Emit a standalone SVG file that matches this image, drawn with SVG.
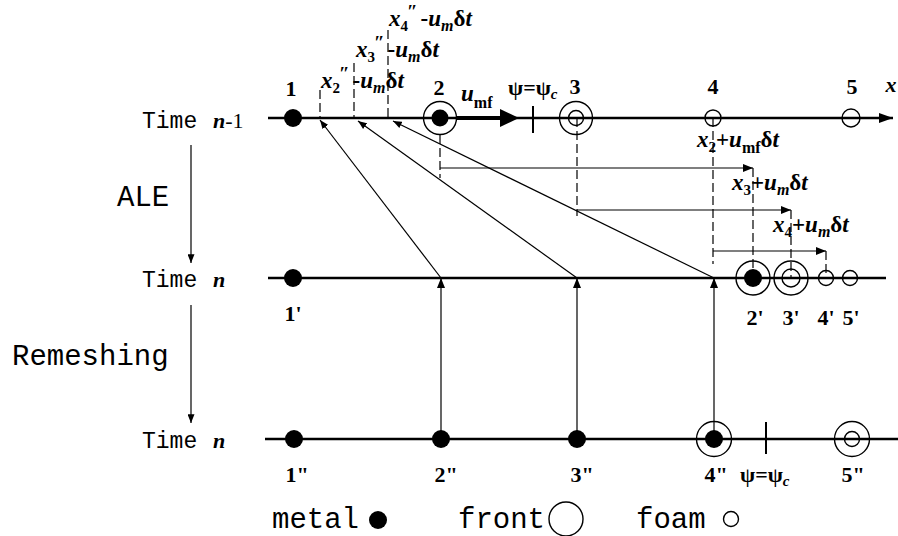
<svg xmlns="http://www.w3.org/2000/svg" width="898" height="536" viewBox="0 0 898 536">
  <style>
    .axis { stroke:#000; stroke-width:2.6; fill:none; }
    .thin { stroke:#000; stroke-width:1.2; fill:none; }
    .dash { stroke:#000; stroke-width:1.2; stroke-dasharray:9 4; fill:none; }
    .ring { stroke:#000; stroke-width:1.4; fill:none; }
    .dot { fill:#000; }
    .lbl { font-family:"Liberation Serif", "Times New Roman", serif; font-size:22px; font-weight:bold; fill:#000; }
    .math { font-family:"Liberation Serif", "Times New Roman", serif; font-size:23px; font-weight:bold; fill:#000; }
    .it { font-style:italic; }
    .mono { font-family:"Liberation Mono", "Courier New", monospace; fill:#000; }
  </style>
  <defs>
    <marker id="ah" viewBox="0 0 10 8" refX="10" refY="4" markerWidth="10" markerHeight="8" markerUnits="userSpaceOnUse" orient="auto">
      <path d="M0,0 L10,4 L0,8 z" fill="#000"/>
    </marker>
    <marker id="ahs" viewBox="0 0 10 8" refX="10" refY="4" markerWidth="9" markerHeight="7" markerUnits="userSpaceOnUse" orient="auto">
      <path d="M0,0 L10,4 L0,8 z" fill="#000"/>
    </marker>
    <marker id="ahx" viewBox="0 0 14 10" refX="14" refY="5" markerWidth="14" markerHeight="10" markerUnits="userSpaceOnUse" orient="auto">
      <path d="M0,0 L14,5 L0,10 z" fill="#000"/>
    </marker>
  </defs>

  <!-- left-hand step labels -->
  <g id="steps">
    <text class="mono" x="142" y="128" font-size="23">Time</text>
    <text class="lbl it" x="213" y="128" font-size="19">n<tspan font-style="normal" font-weight="normal">-1</tspan></text>
    <text class="mono" x="142" y="287" font-size="23">Time</text>
    <text class="lbl it" x="213" y="287" font-size="19">n</text>
    <text class="mono" x="142" y="448" font-size="23">Time</text>
    <text class="lbl it" x="213" y="448" font-size="19">n</text>
    <text class="mono" x="117" y="206" font-size="29">ALE</text>
    <text class="mono" x="12" y="365" font-size="29">Remeshing</text>
    <line class="thin" x1="191" y1="145" x2="191" y2="263" marker-end="url(#ahs)"/>
    <line class="thin" x1="191" y1="305" x2="191" y2="423" marker-end="url(#ahs)"/>
  </g>

  <!-- mesh lines -->
  <g id="axes">
    <line class="axis" x1="268" y1="118" x2="893" y2="118" marker-end="url(#ahx)"/>
    <line class="axis" x1="268" y1="278" x2="886" y2="278"/>
    <line class="axis" x1="265" y1="439" x2="898" y2="439"/>
  </g>

  <!-- connectors -->
  <g id="connectors">
    <!-- remeshed nodes mapped back to time n -->
    <line class="thin" x1="441" y1="439" x2="441" y2="278" marker-end="url(#ah)"/>
    <line class="thin" x1="577" y1="439" x2="577" y2="278" marker-end="url(#ah)"/>
    <line class="thin" x1="714" y1="439" x2="714" y2="278" marker-end="url(#ah)"/>
    <!-- traced back to time n-1 -->
    <line class="thin" x1="441" y1="278" x2="320" y2="120" marker-end="url(#ahs)"/>
    <line class="thin" x1="577" y1="278" x2="358" y2="121" marker-end="url(#ahs)"/>
    <line class="thin" x1="714" y1="278" x2="393" y2="121" marker-end="url(#ahs)"/>
    <!-- departure-point guides -->
    <line class="dash" x1="320" y1="90" x2="320" y2="118"/>
    <line class="dash" x1="354" y1="63" x2="354" y2="118"/>
    <line class="dash" x1="388" y1="30" x2="388" y2="118"/>
    <!-- forward updates of node positions -->
    <line class="dash" x1="440" y1="135" x2="440" y2="178"/>
    <line class="thin" x1="440" y1="168" x2="753" y2="168" marker-end="url(#ah)"/>
    <line class="dash" x1="577" y1="118" x2="577" y2="216"/>
    <line class="thin" x1="577" y1="210" x2="791" y2="210" marker-end="url(#ah)"/>
    <line class="dash" x1="713" y1="118" x2="713" y2="264"/>
    <line class="thin" x1="713" y1="251" x2="826" y2="251" marker-end="url(#ah)"/>
    <line class="dash" x1="753" y1="168" x2="753" y2="278"/>
    <line class="dash" x1="791" y1="210" x2="791" y2="278"/>
    <line class="dash" x1="826" y1="251" x2="826" y2="278"/>
    <!-- front velocity -->
    <line stroke="#000" stroke-width="4" x1="457" y1="118" x2="503" y2="118"/>
    <path d="M500,109 L519,118 L500,127 z" fill="#000"/>
  </g>

  <!-- nodes at time n-1 -->
  <g id="n1"><circle class="dot" cx="293" cy="118" r="9"/><text class="lbl" x="291" y="96" text-anchor="middle">1</text></g>
  <g id="n2"><circle class="dot" cx="440" cy="118" r="8.5"/><circle class="ring" cx="440" cy="118" r="16.5"/><text class="lbl" x="439" y="95" text-anchor="middle">2</text></g>
  <g id="n3"><circle class="ring" cx="576" cy="118" r="7.5"/><circle class="ring" cx="576" cy="118" r="16.5"/><text class="lbl" x="575" y="94" text-anchor="middle">3</text></g>
  <g id="n4"><circle class="ring" cx="713" cy="118" r="8"/><text class="lbl" x="713" y="94" text-anchor="middle">4</text></g>
  <g id="n5"><circle class="ring" cx="851" cy="118" r="9"/><text class="lbl" x="852" y="94" text-anchor="middle">5</text></g>
  <g id="xaxis-label"><text class="lbl it" x="891" y="92" text-anchor="middle">x</text></g>

  <!-- critical level set and front velocity -->
  <g id="psi-top">
    <line stroke="#000" stroke-width="2" x1="533" y1="106" x2="533" y2="133"/>
    <text class="lbl" x="508" y="95" font-weight="normal">ψ=ψ<tspan class="it" font-size="15" dy="4">c</tspan></text>
  </g>
  <g id="umf">
    <text class="math" x="461" y="101"><tspan class="it">u</tspan><tspan font-size="16" dy="7">mf</tspan></text>
  </g>

  <!-- departure-point labels -->
  <g id="dep-labels">
    <text class="math" x="321" y="88"><tspan class="it">x</tspan><tspan font-size="15" dy="5">2</tspan><tspan class="it" font-size="19" dx="-1" dy="-13">″</tspan><tspan dx="3" dy="8">-</tspan><tspan class="it">u</tspan><tspan class="it" font-size="16" dy="5">m</tspan><tspan dy="-5">δ</tspan><tspan class="it">t</tspan></text>
    <text class="math" x="356" y="57"><tspan class="it">x</tspan><tspan font-size="15" dy="5">3</tspan><tspan class="it" font-size="19" dx="-1" dy="-13">″</tspan><tspan dx="3" dy="8">-</tspan><tspan class="it">u</tspan><tspan class="it" font-size="16" dy="5">m</tspan><tspan dy="-5">δ</tspan><tspan class="it">t</tspan></text>
    <text class="math" x="389" y="26"><tspan class="it">x</tspan><tspan font-size="15" dy="5">4</tspan><tspan class="it" font-size="19" dx="-1" dy="-13">″</tspan><tspan dx="3" dy="8">-</tspan><tspan class="it">u</tspan><tspan class="it" font-size="16" dy="5">m</tspan><tspan dy="-5">δ</tspan><tspan class="it">t</tspan></text>
  </g>

  <!-- updated-position labels -->
  <g id="upd-labels">
    <text class="math" x="697" y="147"><tspan class="it">x</tspan><tspan font-size="15" dy="5">2</tspan><tspan dy="-5">+</tspan><tspan class="it">u</tspan><tspan font-size="16" dy="6">mf</tspan><tspan dy="-6">δ</tspan><tspan class="it">t</tspan></text>
    <text class="math" x="732" y="190"><tspan class="it">x</tspan><tspan font-size="15" dy="5">3</tspan><tspan dy="-5">+</tspan><tspan class="it">u</tspan><tspan class="it" font-size="16" dy="5">m</tspan><tspan dy="-5">δ</tspan><tspan class="it">t</tspan></text>
    <text class="math" x="773" y="232"><tspan class="it">x</tspan><tspan font-size="15" dy="5">4</tspan><tspan dy="-5">+</tspan><tspan class="it">u</tspan><tspan class="it" font-size="16" dy="5">m</tspan><tspan dy="-5">δ</tspan><tspan class="it">t</tspan></text>
  </g>

  <!-- nodes at time n after ALE -->
  <g id="m1"><circle class="dot" cx="293" cy="278" r="9"/><text class="lbl" x="293" y="321" text-anchor="middle">1'</text></g>
  <g id="m2"><circle class="dot" cx="753" cy="278" r="9"/><circle class="ring" cx="753" cy="278" r="17"/><text class="lbl" x="755" y="325" text-anchor="middle">2'</text></g>
  <g id="m3"><circle class="ring" cx="791" cy="278" r="9"/><circle class="ring" cx="791" cy="278" r="17"/><text class="lbl" x="791" y="325" text-anchor="middle">3'</text></g>
  <g id="m4"><circle class="ring" cx="826" cy="278" r="7.5"/><text class="lbl" x="826" y="325" text-anchor="middle">4'</text></g>
  <g id="m5"><circle class="ring" cx="850" cy="278" r="7.5"/><text class="lbl" x="851" y="325" text-anchor="middle">5'</text></g>

  <!-- nodes at time n after remeshing -->
  <g id="r1"><circle class="dot" cx="294" cy="439" r="9"/><text class="lbl" x="297" y="482" text-anchor="middle">1"</text></g>
  <g id="r2"><circle class="dot" cx="441" cy="439" r="9"/><text class="lbl" x="446" y="482" text-anchor="middle">2"</text></g>
  <g id="r3"><circle class="dot" cx="577" cy="439" r="9"/><text class="lbl" x="582" y="482" text-anchor="middle">3"</text></g>
  <g id="r4"><circle class="dot" cx="714" cy="439" r="9"/><circle class="ring" cx="714" cy="439" r="17.5"/><text class="lbl" x="716" y="482" text-anchor="middle">4"</text></g>
  <g id="psi-bottom">
    <line stroke="#000" stroke-width="2" x1="766" y1="422" x2="766" y2="454"/>
    <text class="lbl" x="740" y="482" font-weight="normal">ψ=ψ<tspan class="it" font-size="15" dy="4">c</tspan></text>
  </g>
  <g id="r5"><circle class="ring" cx="852" cy="439" r="7.5"/><circle class="ring" cx="852" cy="439" r="17.5"/><text class="lbl" x="853" y="482" text-anchor="middle">5"</text></g>

  <!-- legend -->
  <g id="legend">
    <text class="mono" x="272" y="528" font-size="29">metal</text>
    <circle class="dot" cx="378" cy="520" r="9"/>
    <text class="mono" x="458" y="528" font-size="29">front</text>
    <circle class="ring" cx="566" cy="519" r="17"/>
    <text class="mono" x="636" y="528" font-size="29">foam</text>
    <circle class="ring" cx="731" cy="519" r="7.5"/>
  </g>
</svg>
